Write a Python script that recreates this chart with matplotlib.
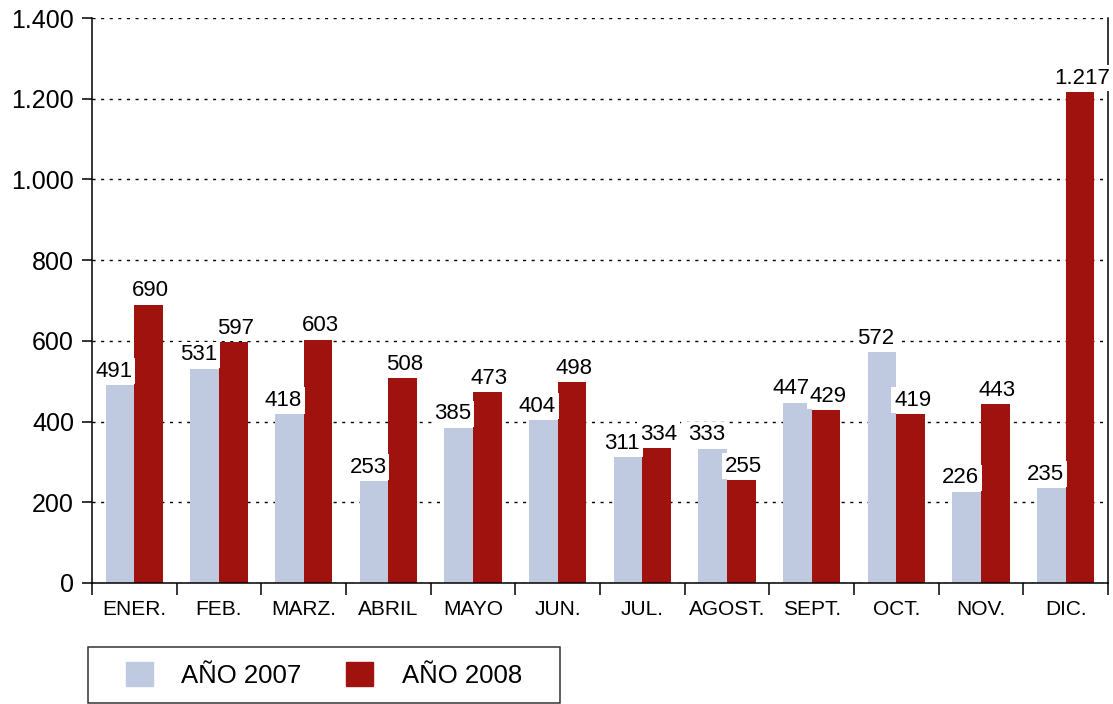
import matplotlib
matplotlib.use("Agg")
import matplotlib.pyplot as plt
from matplotlib.patches import Rectangle, Patch
from matplotlib.ticker import FuncFormatter, FixedLocator
import numpy as np

plt.rcParams['font.family'] = ['Liberation Sans', 'DejaVu Sans']

meses = ["ENER.", "FEB.", "MARZ.", "ABRIL", "MAYO", "JUN.",
         "JUL.", "AGOST.", "SEPT.", "OCT.", "NOV.", "DIC."]
anio_2007 = [491, 531, 418, 253, 385, 404, 311, 333, 447, 572, 226, 235]
anio_2008 = [690, 597, 603, 508, 473, 498, 334, 255, 429, 419, 443, 1217]
series = ["AÑO 2007", "AÑO 2008"]
colores = ["#bfc9e0", "#a0120e"]

def miles(v, pos=None):
    return f"{v:,.0f}".replace(",", ".")

fig = plt.figure(figsize=(11.13, 7.04), dpi=100)
ax = fig.add_axes([92 / 1113, 1 - 583 / 704, 1016 / 1113, 565 / 704])

x = np.arange(len(meses))
w = 0.337
b1 = ax.bar(x - w / 2, anio_2007, w, color=colores[0], zorder=2)
b2 = ax.bar(x + w / 2, anio_2008, w, color=colores[1], zorder=2)

# etiquetas de valor con fondo blanco
for bars, vals, dx in ((b1, anio_2007, -4.3), (b2, anio_2008, 1.5)):
    for r, v in zip(bars, vals):
        ax.annotate(miles(v), (r.get_x() + r.get_width() / 2, v),
                    xytext=(dx, 6), textcoords="offset points",
                    ha="center", va="baseline", fontsize=16, zorder=5,
                    annotation_clip=False,
                    bbox=dict(boxstyle="square,pad=0.12", fc="white", ec="none"))

ax.set_xlim(-0.5, len(meses) - 0.5)
ax.set_ylim(0, 1400)
ax.set_yticks(np.arange(0, 1401, 200))
ax.yaxis.set_major_formatter(FuncFormatter(miles))
ax.set_xticks(x)
ax.set_xticklabels(meses, fontsize=15)
ax.xaxis.set_minor_locator(FixedLocator(np.arange(-0.5, len(meses), 1.0)))
ax.tick_params(axis="x", which="major", length=0, pad=12)
ax.tick_params(axis="x", which="minor", length=8.6, width=1.1, direction="out")
ax.tick_params(axis="y", labelsize=18, length=7, width=1.1, pad=6)

ax.yaxis.grid(True, linestyle=(0, (2.2, 4)), color="black", linewidth=1.0, zorder=1)
ax.set_axisbelow(True)
ax.spines["top"].set_visible(False)
for s in ("left", "right", "bottom"):
    ax.spines[s].set_linewidth(1.1)

# leyenda con marco propio
fig.patches.append(Rectangle((88 / 1113, 1 / 704), 472 / 1113, 56 / 704,
                             transform=fig.transFigure, fill=False,
                             ec="#333333", lw=1.1))
handles = [Patch(color=c, label=s) for c, s in zip(colores, series)]
fig.legend(handles=handles, loc="center", ncol=2, frameon=False,
           bbox_to_anchor=(324 / 1113, 1 - 675 / 704),
           fontsize=18.5, handlelength=1.05, handleheight=1.05,
           handletextpad=1.1, columnspacing=1.75)

fig.savefig("out.png", dpi=100)
